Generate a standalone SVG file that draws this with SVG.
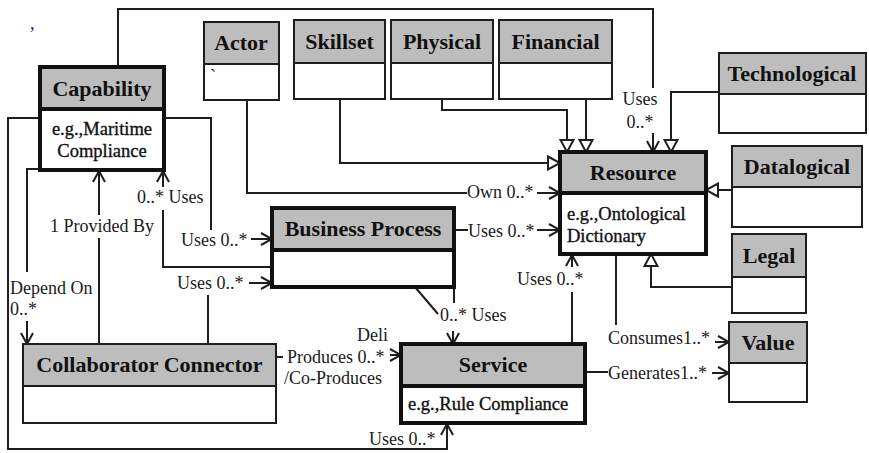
<svg xmlns="http://www.w3.org/2000/svg" width="869" height="453" viewBox="0 0 869 453">
  <style>
    .hd { fill: #bdbdbd; }
    .bx { fill: #ffffff; }
    .thin { fill: none; stroke: #1e1e1e; stroke-width: 2; }
    .thick { fill: none; stroke: #111111; stroke-width: 4; }
    .title { font-family: "Liberation Serif", "Times New Roman", serif; font-weight: bold; font-size: 22px; fill: #111; text-anchor: middle; }
    .body { font-family: "Liberation Serif", "Times New Roman", serif; font-size: 18.5px; fill: #111; stroke: #111; stroke-width: 0.35; }
    .lbl { font-family: "Liberation Serif", "Times New Roman", serif; font-size: 18px; fill: #1a1a1a; }
    .con { fill: none; stroke: #1e1e1e; stroke-width: 2; }
    .arr { marker-end: url(#open); }
    .gen { marker-end: url(#tri); }
  </style>
  <defs>
    <marker id="open" markerUnits="userSpaceOnUse" markerWidth="14" markerHeight="14" viewBox="0 0 14 14" refX="13" refY="7" orient="auto">
      <path d="M2,1 L13,7 L2,13" fill="none" stroke="#1e1e1e" stroke-width="2"/>
    </marker>
    <marker id="tri" markerUnits="userSpaceOnUse" markerWidth="16" markerHeight="16" viewBox="0 0 16 16" refX="14" refY="8" orient="auto">
      <path d="M2,1.5 L14,8 L2,14.5 Z" fill="#ffffff" stroke="#1e1e1e" stroke-width="2"/>
    </marker>
  </defs>
  <rect width="869" height="453" fill="#ffffff"/>

  <!-- stray marks printed on the sheet -->
  <text x="30" y="29" class="lbl" font-size="12">,</text>

  <g id="connectors">
    <!-- generalisations into Resource -->
    <path class="con gen" d="M719,92 H671 V152"/>
    <path class="con gen" d="M586,99 V152"/>
    <path class="con gen" d="M442,99 V110 H567 V152"/>
    <path class="con gen" d="M340,99 V163 H560"/>
    <path class="con gen" d="M732,190 H706"/>
    <path class="con gen" d="M732,287 H651 V254"/>
    <!-- Capability uses Resource (top loop) -->
    <path class="con" d="M118,67 V9 H653 V88"/>
    <path class="con arr" d="M653,133 V152"/>
    <!-- Actor owns Resource -->
    <path class="con" d="M247,100 V193 H467"/>
    <path class="con arr" d="M537,193 H560"/>
    <!-- Business Process uses Resource -->
    <path class="con" d="M454,230 H468"/>
    <path class="con arr" d="M537,230 H560"/>
    <!-- Capability uses Business Process -->
    <path class="con" d="M164,118 H211 V230"/>
    <path class="con arr" d="M251,239 H272"/>
    <!-- Business Process uses Capability -->
    <path class="con" d="M272,267 H163 V210"/>
    <path class="con arr" d="M163,187 V171"/>
    <!-- Collaborator Connector provides Capability -->
    <path class="con" d="M99,344 V238"/>
    <path class="con arr" d="M99,215 V171"/>
    <!-- Capability depends on Collaborator Connector -->
    <path class="con" d="M40,169 H27 V272"/>
    <path class="con arr" d="M27,321 V344"/>
    <!-- Collaborator Connector uses Business Process -->
    <path class="con" d="M208,344 V295"/>
    <path class="con arr" d="M249,283 H272"/>
    <!-- outer loop into Service -->
    <path class="con arr" d="M40,118 H8 V449 H447 V424"/>
    <!-- Collaborator Connector produces Service -->
    <path class="con" d="M276,357 H283"/>
    <path class="con arr" d="M390,355 H401"/>
    <!-- Service uses Resource -->
    <path class="con" d="M572,344 V292"/>
    <path class="con arr" d="M572,267 V255"/>
    <!-- Service generates Value -->
    <path class="con" d="M585,372 H608"/>
    <path class="con arr" d="M712,373 H729"/>
    <!-- Resource consumed towards Value -->
    <path class="con" d="M616,254 V325"/>
    <path class="con arr" d="M715,342 H729"/>
    <!-- Business Process uses Service -->
    <path class="con" d="M454,287 V303"/>
    <path class="con" d="M415,287 L438,314"/>
    <path class="con arr" d="M453,331 V344"/>

    <!-- connector labels -->
    <text class="lbl" x="640" y="105" text-anchor="middle">Uses</text>
    <text class="lbl" x="640" y="128" text-anchor="middle">0..*</text>
    <text class="lbl" x="467" y="198">Own 0..*</text>
    <text class="lbl" x="468" y="237">Uses 0..*</text>
    <text class="lbl" x="137" y="203">0..* Uses</text>
    <text class="lbl" x="50" y="232">1 Provided By</text>
    <text class="lbl" x="181" y="246">Uses 0..*</text>
    <text class="lbl" x="177" y="289">Uses 0..*</text>
    <text class="lbl" x="10" y="294">Depend On</text>
    <text class="lbl" x="10" y="315">0..*</text>
    <text class="lbl" x="357" y="341" font-size="14" fill="#8a8a8a">Deli</text>
    <text class="lbl" x="287" y="363">Produces 0..*</text>
    <text class="lbl" x="284" y="384">/Co-Produces</text>
    <text class="lbl" x="440" y="321">0..* Uses</text>
    <text class="lbl" x="517" y="285">Uses 0..*</text>
    <text class="lbl" x="608" y="344">Consumes1..*</text>
    <text class="lbl" x="608" y="379">Generates1..*</text>
    <text class="lbl" x="369" y="445">Uses 0..*</text>
  </g>

  <g id="capability">
    <rect class="bx" x="40" y="67" width="124" height="103"/>
    <rect class="hd" x="40" y="67" width="124" height="42"/>
    <path class="thick" d="M40,109 H164"/>
    <rect class="thick" x="40" y="67" width="124" height="103"/>
    <text class="title" x="102" y="96">Capability</text>
    <text class="body" x="102" y="135" text-anchor="middle">e.g.,Maritime</text>
    <text class="body" x="102" y="157" text-anchor="middle">Compliance</text>
  </g>

  <g id="actor">
    <rect class="bx" x="204" y="22" width="75" height="78"/>
    <rect class="hd" x="204" y="22" width="75" height="42"/>
    <path class="thin" d="M204,64 H279"/>
    <rect class="thin" x="204" y="22" width="75" height="78"/>
    <text class="title" x="241" y="50">Actor</text>
    <text class="lbl" x="210" y="82" font-size="11">`</text>
  </g>

  <g id="skillset">
    <rect class="bx" x="294" y="20" width="91" height="79"/>
    <rect class="hd" x="294" y="20" width="91" height="43"/>
    <path class="thin" d="M294,63 H385"/>
    <rect class="thin" x="294" y="20" width="91" height="79"/>
    <text class="title" x="339.5" y="49">Skillset</text>
  </g>

  <g id="physical">
    <rect class="bx" x="391" y="20" width="102" height="79"/>
    <rect class="hd" x="391" y="20" width="102" height="43"/>
    <path class="thin" d="M391,63 H493"/>
    <rect class="thin" x="391" y="20" width="102" height="79"/>
    <text class="title" x="442" y="49">Physical</text>
  </g>

  <g id="financial">
    <rect class="bx" x="499" y="20" width="113" height="79"/>
    <rect class="hd" x="499" y="20" width="113" height="43"/>
    <path class="thin" d="M499,63 H612"/>
    <rect class="thin" x="499" y="20" width="113" height="79"/>
    <text class="title" x="555.5" y="49">Financial</text>
  </g>

  <g id="technological">
    <rect class="bx" x="719" y="53" width="147" height="80"/>
    <rect class="hd" x="719" y="53" width="147" height="41"/>
    <path class="thin" d="M719,94 H866"/>
    <rect class="thin" x="719" y="53" width="147" height="80"/>
    <text class="title" x="792" y="81">Technological</text>
  </g>

  <g id="resource">
    <rect class="bx" x="560" y="152" width="146" height="102"/>
    <rect class="hd" x="560" y="152" width="146" height="41"/>
    <path class="thick" d="M560,193 H706"/>
    <rect class="thick" x="560" y="152" width="146" height="102"/>
    <text class="title" x="633" y="180">Resource</text>
    <text class="body" x="567" y="220">e.g.,Ontological</text>
    <text class="body" x="567" y="242">Dictionary</text>
  </g>

  <g id="datalogical">
    <rect class="bx" x="732" y="146" width="130" height="81"/>
    <rect class="hd" x="732" y="146" width="130" height="41"/>
    <path class="thin" d="M732,187 H862"/>
    <rect class="thin" x="732" y="146" width="130" height="81"/>
    <text class="title" x="797" y="174">Datalogical</text>
  </g>

  <g id="legal">
    <rect class="bx" x="732" y="234" width="74" height="79"/>
    <rect class="hd" x="732" y="234" width="74" height="43"/>
    <path class="thin" d="M732,277 H806"/>
    <rect class="thin" x="732" y="234" width="74" height="79"/>
    <text class="title" x="769" y="263">Legal</text>
  </g>

  <g id="value">
    <rect class="bx" x="729" y="322" width="78" height="80"/>
    <rect class="hd" x="729" y="322" width="78" height="41"/>
    <path class="thin" d="M729,363 H807"/>
    <rect class="thin" x="729" y="322" width="78" height="80"/>
    <text class="title" x="768" y="350">Value</text>
  </g>

  <g id="business-process">
    <rect class="bx" x="272" y="208" width="182" height="79"/>
    <rect class="hd" x="272" y="208" width="182" height="42"/>
    <path class="thick" d="M272,250 H454"/>
    <rect class="thick" x="272" y="208" width="182" height="79"/>
    <text class="title" x="363" y="236">Business Process</text>
  </g>

  <g id="collaborator-connector">
    <rect class="bx" x="23" y="344" width="253" height="79"/>
    <rect class="hd" x="23" y="344" width="253" height="42"/>
    <path class="thin" d="M23,386 H276"/>
    <rect class="thin" x="23" y="344" width="253" height="79"/>
    <text class="title" x="149.5" y="372">Collaborator Connector</text>
  </g>

  <g id="service">
    <rect class="bx" x="401" y="344" width="184" height="79"/>
    <rect class="hd" x="401" y="344" width="184" height="42"/>
    <path class="thick" d="M401,386 H585"/>
    <rect class="thick" x="401" y="344" width="184" height="79"/>
    <text class="title" x="493" y="372">Service</text>
    <text class="body" x="408" y="410">e.g.,Rule Compliance</text>
  </g>
</svg>
